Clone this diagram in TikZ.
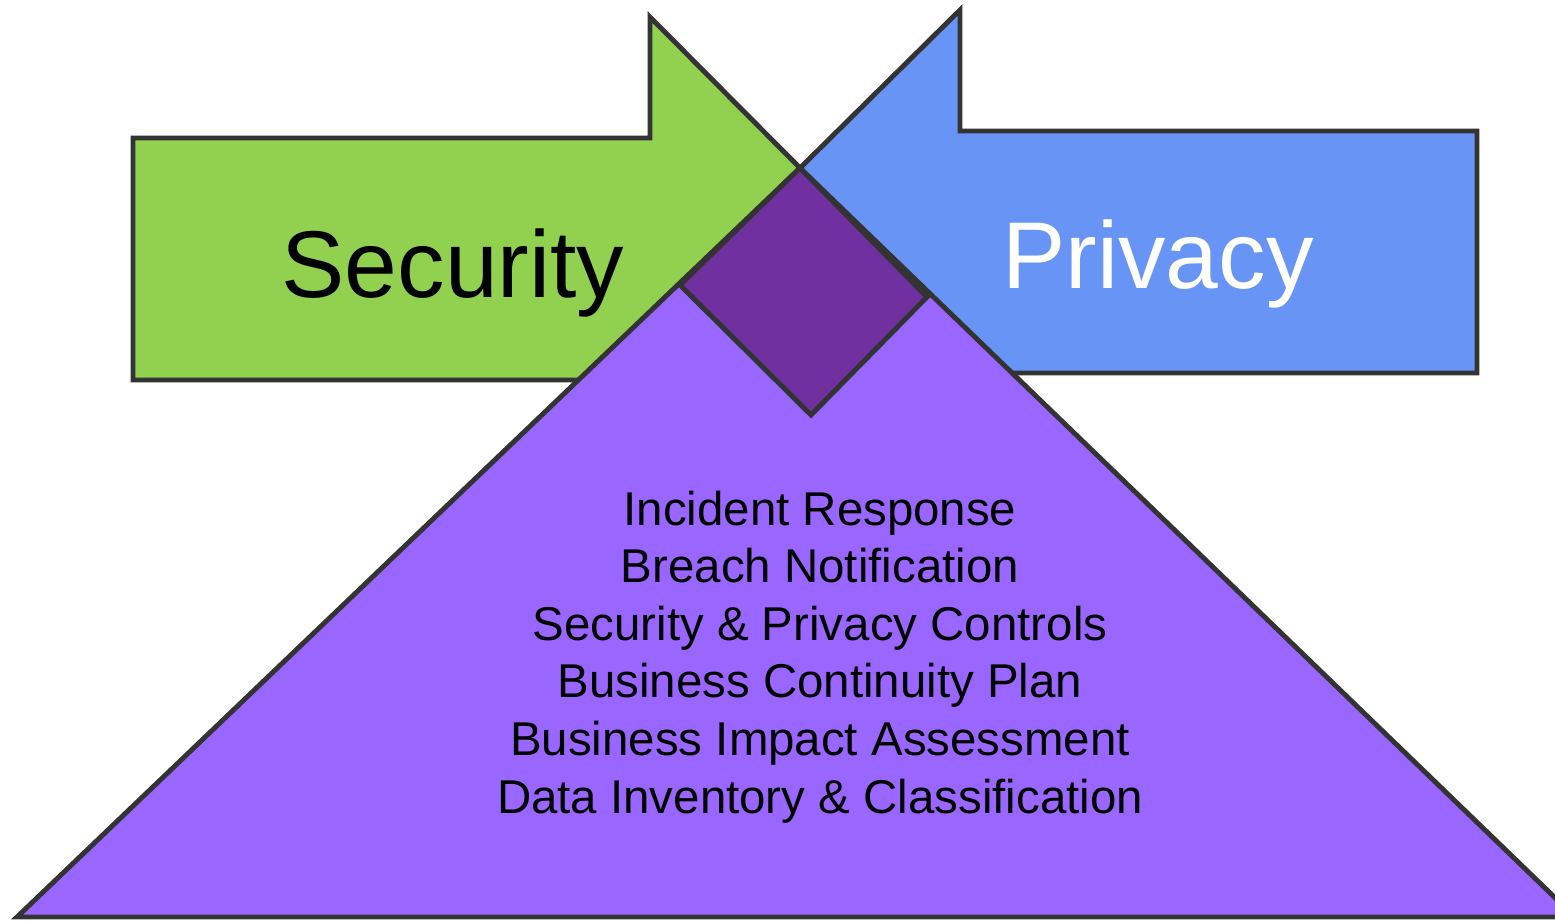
\documentclass[tikz,border=0pt]{standalone}
\usepackage{fontspec}
\setmainfont{Liberation Sans}
\definecolor{secgreen}{HTML}{92D050}
\definecolor{privblue}{HTML}{6895F5}
\definecolor{basepurple}{HTML}{9966FF}
\definecolor{coredark}{HTML}{7030A0}
\definecolor{edgegray}{HTML}{333333}
\tikzset{
  shapeedge/.style={draw=edgegray, line width=2.8pt, line join=miter},
  bigword/.style={font=\fontsize{54}{60}\selectfont, anchor=base, inner sep=0pt},
  listline/.style={font=\fontsize{27}{32}\selectfont, anchor=base, inner sep=0pt, text=black}
}
\begin{document}
\begin{tikzpicture}[x=0.02cm, y=-0.02cm]
\useasboundingbox (0,0) rectangle (1555,920);
\clip (0,0) rectangle (1555,920);
% Security arrow (green)
\draw[shapeedge, fill=secgreen] (133,138) -- (650,138) -- (650,17) -- (800,168) -- (700,380) -- (133,380) -- cycle;
% Privacy arrow (blue)
\draw[shapeedge, fill=privblue] (800,168) -- (960,10) -- (960,131) -- (1477,131) -- (1477,373) -- (900,373) -- cycle;
% Base triangle (purple)
\draw[shapeedge, fill=basepurple] (800,168) -- (1575,917) -- (17,917) -- cycle;
% Core diamond
\draw[shapeedge, fill=coredark] (800,168) -- (927,297) -- (811,415) -- (680,285) -- cycle;
% Labels
\node[bigword, text=black] (security) at (453,297) {Security};
\node[bigword, text=white] (privacy) at (1158,288) {Privacy};
\node[listline] (l1) at (820,525) {Incident Response};
\node[listline] (l2) at (820,582.6) {Breach Notification};
\node[listline] (l3) at (820,640.2) {Security \& Privacy Controls};
\node[listline] (l4) at (820,697.8) {Business Continuity Plan};
\node[listline] (l5) at (820,755.4) {Business Impact Assessment};
\node[listline] (l6) at (820,813) {Data Inventory \& Classification};
\end{tikzpicture}
\end{document}
